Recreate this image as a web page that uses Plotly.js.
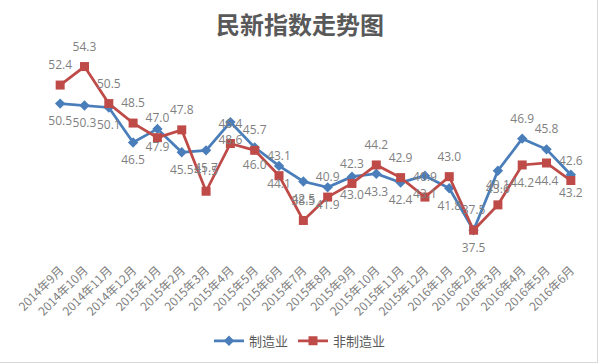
<!DOCTYPE html>
<html>
<head>
<meta charset="utf-8">
<script src="https://cdn.plot.ly/plotly-3.0.1.min.js"></script>
<style>
html,body{margin:0;padding:0;background:#fff;}
#wrap{position:relative;width:600px;height:364px;overflow:hidden;}
#chart{width:600px;height:364px;}
#frame{position:absolute;left:-1px;top:-1px;width:597px;height:362px;border:1px solid #d9d9d9;pointer-events:none;}
</style>
</head>
<body>
<div id="wrap"><div id="chart"></div><div id="frame"></div></div>
<script>
const categories = ["2014年9月","2014年10月","2014年11月","2014年12月","2015年1月","2015年2月","2015年3月","2015年4月","2015年5月","2015年6月","2015年7月","2015年8月","2015年9月","2015年10月","2015年11月","2015年12月","2016年1月","2016年2月","2016年3月","2016年4月","2016年5月","2016年6月"];
const manufacturing = [50.5, 50.3, 50.1, 46.5, 47.9, 45.5, 45.7, 48.6, 46.0, 44.1, 42.5, 41.9, 43.0, 43.3, 42.4, 43.1, 41.8, 37.5, 43.6, 46.9, 45.8, 43.2];
const nonManufacturing = [52.4, 54.3, 50.5, 48.5, 47.0, 47.8, 41.5, 46.4, 45.7, 43.1, 38.5, 40.9, 42.3, 44.2, 42.9, 40.9, 43.0, 37.5, 40.1, 44.2, 44.4, 42.6];
const seriesNames = ["制造业", "非制造业"];

const blue = "#4a7ebb";
const red = "#be4b48";
const labelColor = "#7f7f7f";
const labelFont = {family: "Open Sans, Noto Sans, sans-serif", size: 12, color: labelColor};

const bluePos = categories.map((c, i) => (i === 19 || i === 20) ? "top center" : "bottom center");
const redPos = categories.map((c, i) => (i === 19 || i === 20) ? "bottom center" : "top center");

const traces = [
  {
    x: categories, y: manufacturing, name: seriesNames[0], type: "scatter",
    mode: "lines+markers",
    line: {color: blue, width: 2.75},
    marker: {symbol: "diamond", size: 8, color: blue}
  },
  {
    x: categories, y: nonManufacturing, name: seriesNames[1], type: "scatter",
    mode: "lines+markers",
    line: {color: red, width: 2.75},
    marker: {symbol: "square", size: 9, color: red}
  },
  {
    x: categories, y: manufacturing, type: "scatter", mode: "markers+text",
    showlegend: false, hoverinfo: "skip",
    marker: {size: 19, opacity: 0, color: blue},
    text: manufacturing.map(v => v.toFixed(1)),
    textposition: bluePos, textfont: labelFont, cliponaxis: false
  },
  {
    x: categories, y: nonManufacturing, type: "scatter", mode: "markers+text",
    showlegend: false, hoverinfo: "skip",
    marker: {size: 19, opacity: 0, color: red},
    text: nonManufacturing.map(v => v.toFixed(1)),
    textposition: redPos, textfont: labelFont, cliponaxis: false
  }
];

const layout = {
  width: 600, height: 364,
  margin: {l: 48, r: 17, t: 50, b: 107, autoexpand: false},
  paper_bgcolor: "#fff", plot_bgcolor: "#fff",
  title: {
    text: "民新指数走势图",
    font: {family: "Noto Sans CJK SC, sans-serif", size: 24, color: "#595959", weight: "bold"},
    x: 0.5, xanchor: "center", y: 0.93, yanchor: "middle", xref: "container"
  },
  xaxis: {
    type: "category", range: [-0.5, 21.5],
    showgrid: false, zeroline: false, showline: false, ticks: "",
    tickangle: -45, ticklabelstandoff: 3,
    tickfont: {family: "Noto Sans CJK SC, sans-serif", size: 12, color: "#7f7f7f"}
  },
  yaxis: {
    range: [34.75, 56],
    visible: false, showgrid: false, zeroline: false
  },
  showlegend: true,
  legend: {
    orientation: "h", x: 0.471, xanchor: "center", y: -0.405, yanchor: "middle",
    font: {family: "Noto Sans CJK SC, sans-serif", size: 13, color: "#595959"},
    itemwidth: 30
  }
};

Plotly.newPlot("chart", traces, layout, {displayModeBar: false, staticPlot: true});
</script>
</body>
</html>
